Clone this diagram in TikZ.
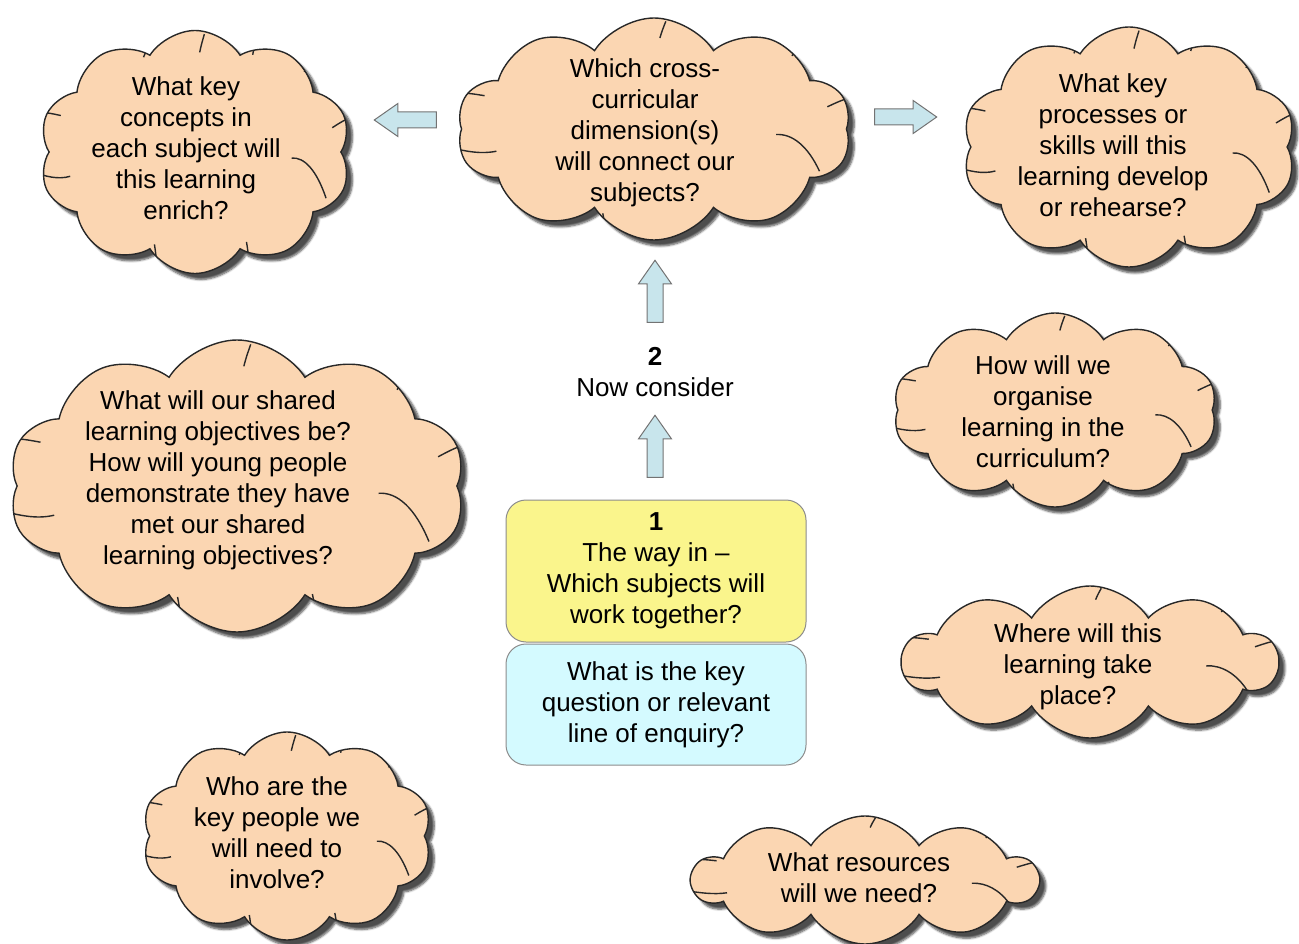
\documentclass[tikz,border=0pt]{standalone}
\usepackage{fontspec}
\setmainfont{Liberation Sans}
\usetikzlibrary{shapes.symbols}
\usetikzlibrary{shapes.arrows}
\usetikzlibrary{shadows.blur}

\definecolor{cloudfill}{RGB}{251,214,178}
\definecolor{cloudline}{RGB}{40,40,40}
\definecolor{arrowfill}{RGB}{200,229,236}
\definecolor{boxyellow}{RGB}{250,245,140}
\definecolor{boxcyan}{RGB}{212,250,255}

% inner strokes of a cloud, in units of its half width and half height
\newcommand\cloudarcs{%
  \draw [arcline] (-0.80,0.20) .. controls (-0.88,0.23) and (-0.96,0.20) .. (-1.05,0.16);
  \draw [arcline] (-0.86,-0.30) .. controls (-0.93,-0.32) .. (-1.02,-0.33);
  \draw [arcline] (-0.26,0.76) .. controls (-0.25,0.85) .. (-0.24,0.98);
  \draw [arcline] (0.33,0.74) .. controls (0.34,0.82) .. (0.35,0.95);
  \draw [arcline] (0.62,0.05) .. controls (0.70,0.04) and (0.78,0.15) .. (0.84,0.38);
  \draw [arcline] (0.88,-0.20) .. controls (0.94,-0.25) .. (1.02,-0.30);
  \draw [arcline] (0.70,-0.66) .. controls (0.73,-0.72) .. (0.78,-0.80);
  \draw [arcline] (0.37,-0.80) .. controls (0.38,-0.87) .. (0.41,-0.95);
  \draw [arcline] (0.03,-0.82) .. controls (0.04,-0.88) .. (0.06,-0.97);
  \draw [arcline] (-0.33,-0.78) .. controls (-0.31,-0.85) .. (-0.28,-0.93);
}

\tikzset{
  arcline/.style={draw=cloudline, line width=1.4pt},
  puff/.style 2 args={cloud, cloud puffs=10, cloud puff arc=115, cloud ignores aspect,
    minimum width=#1pt, minimum height=#2pt, draw=cloudline, line width=1.4pt, fill=cloudfill,
    blur shadow={shadow xshift=6pt, shadow yshift=-6pt, shadow opacity=70, shadow blur steps=6},
    path picture={\begin{scope}[shift={(path picture bounding box.center)}, x=#1*0.5pt, y=-#2*0.5pt]
      \cloudarcs
    \end{scope}}},
  qtext/.style={align=center, font=\fontsize{26}{31}\selectfont, inner sep=0pt},
  blockarrow/.style={single arrow, draw=black!55, line width=1pt, fill=arrowfill, inner sep=7.5pt,
    single arrow head extend=8.5pt, single arrow tip angle=70, minimum height=62pt},
  stepbox/.style={rounded corners=20pt, draw=black!45, line width=1pt, minimum width=300pt, qtext}
}

\begin{document}
\begin{tikzpicture}[x=1pt,y=-1pt]
\useasboundingbox (0,0) rectangle (1299,944);

%Clouds
\node [puff={312}{243}] (cKey) at (195,152) {};
\node [puff={394}{222}] (cCross) at (654,129) {};
\node [puff={334}{240}] (cSkill) at (1129,147) {};
\node [puff={457}{292}] (cObj) at (237,486) {};
\node [puff={324}{194}] (cOrg) at (1055,410) {};
\node [puff={375}{152}] (cPlace) at (1090,662) {};
\node [puff={290}{208}] (cPeople) at (287,836) {};
\node [puff={345}{128}] (cRes) at (865,880) {};

%Cloud texts
\node [qtext] (tKey) at (186,148) {What key\\concepts in\\each subject will\\this learning\\enrich?};
\node [qtext] (tCross) at (645,133) {Which cross-\\curricular\\dimension(s)\\will connect our\\subjects?};
\node [qtext] (tSkill) at (1113,145) {What key\\processes or\\skills will this\\learning develop\\or rehearse?};
\node [qtext] (tObj) at (218,480) {What will our shared\\learning objectives be?\\How will young people\\demonstrate they have\\met our shared\\learning objectives?};
\node [qtext] (tOrg) at (1043,412) {How will we\\organise\\learning in the\\curriculum?};
\node [qtext] (tPlace) at (1078,667) {Where will this\\learning take\\place?};
\node [qtext] (tPeople) at (277,833) {Who are the\\key people we\\will need to\\involve?};
\node [qtext] (tRes) at (859,878) {What resources\\will we need?};

%Block arrows
\node [blockarrow, shape border rotate=180] (aLeft) at (411,120) {};
\node [blockarrow] (aRight) at (900,117) {};
\node [blockarrow, shape border rotate=90] (aUpTop) at (655,297) {};
\node [blockarrow, shape border rotate=90] (aUpLow) at (655,452) {};

%Steps
\node [qtext] (tNow) at (655,372) {\textbf{2}\\Now consider};
\node [stepbox, fill=boxyellow, minimum height=142pt] (bWay) at (656,571) {\textbf{1}\\The way in --\\Which subjects will\\work together?};
\node [stepbox, fill=boxcyan, minimum height=121pt] (bQuest) at (656,704.5) {What is the key\\question or relevant\\line of enquiry?};

\end{tikzpicture}
\end{document}
